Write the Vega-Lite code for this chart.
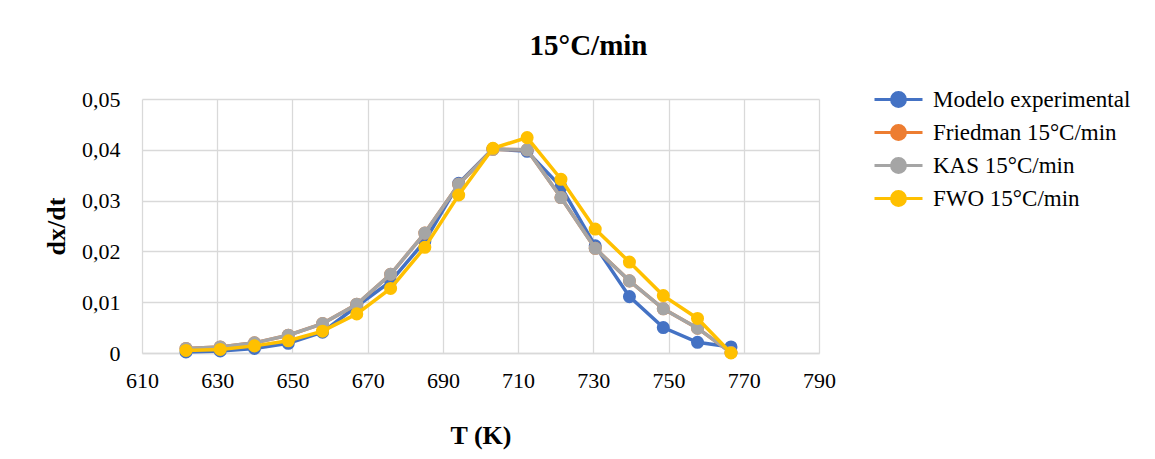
{
  "$schema": "https://vega.github.io/schema/vega-lite/v6.json",
  "autosize": {"type": "none"},
  "width": 677,
  "height": 254,
  "padding": {"left": 142, "top": 99, "right": 336, "bottom": 106},
  "background": "white",
  "title": {
    "text": "15°C/min",
    "font": "Liberation Serif",
    "fontSize": 29,
    "fontWeight": "bold",
    "color": "#000000",
    "anchor": "middle",
    "frame": "group",
    "dx": 108,
    "offset": 25
  },
  "data": {
    "values": [
      {"T": 621.7, "serie": "Modelo experimental", "v": 0.0002},
      {"T": 630.8, "serie": "Modelo experimental", "v": 0.0004},
      {"T": 639.9, "serie": "Modelo experimental", "v": 0.0009},
      {"T": 648.9, "serie": "Modelo experimental", "v": 0.0019},
      {"T": 658.0, "serie": "Modelo experimental", "v": 0.0041},
      {"T": 667.1, "serie": "Modelo experimental", "v": 0.0092},
      {"T": 676.1, "serie": "Modelo experimental", "v": 0.0141},
      {"T": 685.2, "serie": "Modelo experimental", "v": 0.0220},
      {"T": 694.2, "serie": "Modelo experimental", "v": 0.0334},
      {"T": 703.3, "serie": "Modelo experimental", "v": 0.0402},
      {"T": 712.4, "serie": "Modelo experimental", "v": 0.0397},
      {"T": 721.4, "serie": "Modelo experimental", "v": 0.0327},
      {"T": 730.5, "serie": "Modelo experimental", "v": 0.0211},
      {"T": 739.6, "serie": "Modelo experimental", "v": 0.0111},
      {"T": 748.6, "serie": "Modelo experimental", "v": 0.0050},
      {"T": 757.7, "serie": "Modelo experimental", "v": 0.0021},
      {"T": 766.6, "serie": "Modelo experimental", "v": 0.0012},
      {"T": 621.7, "serie": "Friedman 15°C/min", "v": 0.0009},
      {"T": 630.8, "serie": "Friedman 15°C/min", "v": 0.0012},
      {"T": 639.9, "serie": "Friedman 15°C/min", "v": 0.0020},
      {"T": 648.9, "serie": "Friedman 15°C/min", "v": 0.0035},
      {"T": 658.0, "serie": "Friedman 15°C/min", "v": 0.0058},
      {"T": 667.1, "serie": "Friedman 15°C/min", "v": 0.0096},
      {"T": 676.1, "serie": "Friedman 15°C/min", "v": 0.0155},
      {"T": 685.2, "serie": "Friedman 15°C/min", "v": 0.0236},
      {"T": 694.2, "serie": "Friedman 15°C/min", "v": 0.0332},
      {"T": 703.3, "serie": "Friedman 15°C/min", "v": 0.0401},
      {"T": 712.4, "serie": "Friedman 15°C/min", "v": 0.0400},
      {"T": 721.4, "serie": "Friedman 15°C/min", "v": 0.0306},
      {"T": 730.5, "serie": "Friedman 15°C/min", "v": 0.0206},
      {"T": 739.6, "serie": "Friedman 15°C/min", "v": 0.0142},
      {"T": 748.6, "serie": "Friedman 15°C/min", "v": 0.0087},
      {"T": 757.7, "serie": "Friedman 15°C/min", "v": 0.0049},
      {"T": 766.6, "serie": "Friedman 15°C/min", "v": 0.0001},
      {"T": 621.7, "serie": "KAS 15°C/min", "v": 0.0009},
      {"T": 630.8, "serie": "KAS 15°C/min", "v": 0.0012},
      {"T": 639.9, "serie": "KAS 15°C/min", "v": 0.0020},
      {"T": 648.9, "serie": "KAS 15°C/min", "v": 0.0035},
      {"T": 658.0, "serie": "KAS 15°C/min", "v": 0.0058},
      {"T": 667.1, "serie": "KAS 15°C/min", "v": 0.0096},
      {"T": 676.1, "serie": "KAS 15°C/min", "v": 0.0155},
      {"T": 685.2, "serie": "KAS 15°C/min", "v": 0.0236},
      {"T": 694.2, "serie": "KAS 15°C/min", "v": 0.0332},
      {"T": 703.3, "serie": "KAS 15°C/min", "v": 0.0401},
      {"T": 712.4, "serie": "KAS 15°C/min", "v": 0.0400},
      {"T": 721.4, "serie": "KAS 15°C/min", "v": 0.0306},
      {"T": 730.5, "serie": "KAS 15°C/min", "v": 0.0206},
      {"T": 739.6, "serie": "KAS 15°C/min", "v": 0.0142},
      {"T": 748.6, "serie": "KAS 15°C/min", "v": 0.0087},
      {"T": 757.7, "serie": "KAS 15°C/min", "v": 0.0049},
      {"T": 766.6, "serie": "KAS 15°C/min", "v": 0.0001},
      {"T": 621.7, "serie": "FWO 15°C/min", "v": 0.0005},
      {"T": 630.8, "serie": "FWO 15°C/min", "v": 0.0007},
      {"T": 639.9, "serie": "FWO 15°C/min", "v": 0.0014},
      {"T": 648.9, "serie": "FWO 15°C/min", "v": 0.0024},
      {"T": 658.0, "serie": "FWO 15°C/min", "v": 0.0043},
      {"T": 667.1, "serie": "FWO 15°C/min", "v": 0.0077},
      {"T": 676.1, "serie": "FWO 15°C/min", "v": 0.0127},
      {"T": 685.2, "serie": "FWO 15°C/min", "v": 0.0208},
      {"T": 694.2, "serie": "FWO 15°C/min", "v": 0.0311},
      {"T": 703.3, "serie": "FWO 15°C/min", "v": 0.0403},
      {"T": 712.4, "serie": "FWO 15°C/min", "v": 0.0424},
      {"T": 721.4, "serie": "FWO 15°C/min", "v": 0.0342},
      {"T": 730.5, "serie": "FWO 15°C/min", "v": 0.0244},
      {"T": 739.6, "serie": "FWO 15°C/min", "v": 0.0179},
      {"T": 748.6, "serie": "FWO 15°C/min", "v": 0.0113},
      {"T": 757.7, "serie": "FWO 15°C/min", "v": 0.0068},
      {"T": 766.6, "serie": "FWO 15°C/min", "v": 0.0000}
    ]
  },
  "encoding": {
    "x": {
      "field": "T",
      "type": "quantitative",
      "scale": {"domain": [610, 790], "nice": false, "zero": false},
      "axis": {
        "title": "T (K)",
        "values": [610, 630, 650, 670, 690, 710, 730, 750, 770, 790],
        "ticks": false,
        "labelPadding": 17,
        "titlePadding": 31,
        "labelFlush": false
      }
    },
    "y": {
      "field": "v",
      "type": "quantitative",
      "scale": {"domain": [0, 0.05], "nice": false},
      "axis": {
        "title": "dx/dt",
        "values": [0, 0.01, 0.02, 0.03, 0.04, 0.05],
        "labelExpr": "datum.value == 0 ? '0' : replace(format(datum.value, '.2f'), '.', ',')",
        "ticks": false,
        "domain": false,
        "labelPadding": 22,
        "titlePadding": 12
      }
    },
    "color": {
      "field": "serie",
      "type": "nominal",
      "scale": {
        "domain": ["Modelo experimental", "Friedman 15°C/min", "KAS 15°C/min", "FWO 15°C/min"],
        "range": ["#4472C4", "#ED7D31", "#A5A5A5", "#FFC000"]
      },
      "legend": {
        "title": null,
        "orient": "none",
        "legendX": 743,
        "legendY": -13,
        "padding": 0,
        "symbolType": "M-2,0L2,0M-0.58,0A0.58,0.58,0,1,1,0.58,0A0.58,0.58,0,1,1,-0.58,0Z",
        "symbolSize": 576,
        "symbolStrokeWidth": 3,
        "labelFont": "Liberation Serif",
        "labelFontSize": 23,
        "labelColor": "#000000",
        "labelOffset": 21,
        "rowPadding": 6,
        "labelLimit": 400,
        "encode": {
          "symbols": {"update": {"fill": {"scale": "color", "field": "value"}, "fillOpacity": {"value": 1}, "opacity": {"value": 1}}}
        }
      }
    }
  },
  "layer": [
    {"transform": [{"filter": "datum.serie == 'Modelo experimental'"}], "mark": {"type": "line", "strokeWidth": 3.5, "point": {"filled": true, "size": 170, "opacity": 1}}},
    {"transform": [{"filter": "datum.serie == 'Friedman 15°C/min'"}], "mark": {"type": "line", "strokeWidth": 3.5, "point": {"filled": true, "size": 170, "opacity": 1}}},
    {"transform": [{"filter": "datum.serie == 'KAS 15°C/min'"}], "mark": {"type": "line", "strokeWidth": 3.5, "point": {"filled": true, "size": 170, "opacity": 1}}},
    {"transform": [{"filter": "datum.serie == 'FWO 15°C/min'"}], "mark": {"type": "line", "strokeWidth": 3.5, "point": {"filled": true, "size": 170, "opacity": 1}}}
  ],
  "config": {
    "view": {"stroke": null},
    "axis": {
      "labelFont": "Liberation Serif",
      "labelFontSize": 22,
      "labelColor": "#000000",
      "titleFont": "Liberation Serif",
      "titleFontSize": 26,
      "titleFontWeight": "bold",
      "titleColor": "#000000",
      "gridColor": "#D9D9D9",
      "gridWidth": 1.3,
      "domainColor": "#D9D9D9",
      "domainWidth": 1.3
    }
  }
}
